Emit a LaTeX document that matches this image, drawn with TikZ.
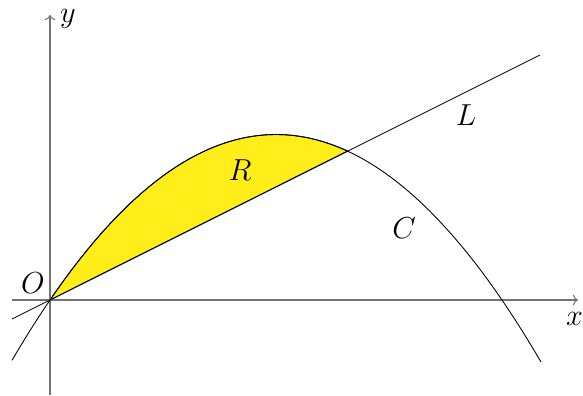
\documentclass[tikz,border=0pt]{standalone}
\usepackage{amsmath}
\usepackage{tikz}
\usetikzlibrary{arrows.meta,positioning}

\begin{document}
\begin{tikzpicture}[
  every node/.style={font=\LARGE, text=black},
  axis/.style={->, black!55, line width=0.6pt},
  graph/.style={black, line width=0.5pt}
]
  \useasboundingbox (-1,-1.9) rectangle (10.66,6);

  % shaded region R
  \fill[yellow!95!orange!90!white, draw=black, line width=0.5pt]
    plot[domain=0:5.95, samples=60] (\x, {0.162*\x*(9.04-\x)}) -- cycle;

  % axes
  \coordinate (O) at (0,0);
  \draw[axis] (-0.76,0) -- (10.56,0);
  \draw[axis] (0,-1.9) -- (0,5.7);
  \node (xlab) at (10.49,-0.38) {$x$};
  \node (ylab) at (0.36,5.62) {$y$};

  % curve C and line L
  \draw[graph] plot[domain=-0.76:9.82, samples=100] (\x, {0.162*\x*(9.04-\x)});
  \draw[graph] (-0.76,-0.38) -- (9.8,4.9);

  \node (olab) at (-0.34,0.34) {$O$};
  \node (rlab) at (3.8,2.6) {$R$};
  \node (llab) at (8.32,3.7) {$L$};
  \node (clab) at (7.08,1.44) {$C$};
\end{tikzpicture}
\end{document}
